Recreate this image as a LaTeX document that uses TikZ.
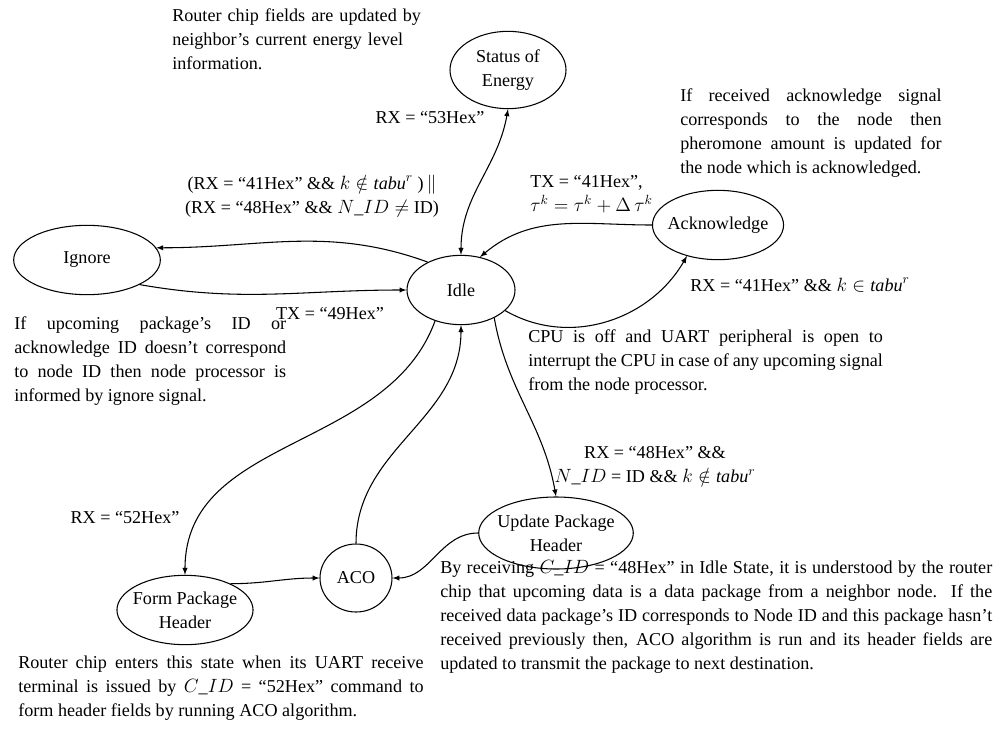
\documentclass[tikz,border=0pt]{standalone}
\usepackage{fontspec}
\setmainfont{Liberation Serif}
\usetikzlibrary{shapes.geometric}
\tikzstyle{n}=[ellipse,draw,line width=0.8pt,inner sep=-3pt,align=center]
\tikzstyle{e}=[line width=0.8pt,-latex]
\tikzstyle{lbl}=[inner sep=0pt,align=center]
\tikzstyle{par}=[inner sep=0pt,align=justify,anchor=north west]
\hyphenpenalty=10000
\begin{document}
\begin{tikzpicture}[x=0.75pt,y=-0.75pt,font=\fontsize{13.6}{18}\selectfont]
\useasboundingbox (0,0) rectangle (1000,739);

% Nodes
\node[n,minimum width=87pt,minimum height=58pt] (energy) at (508,70)  {Status of\\Energy};
\node[n,minimum width=96pt,minimum height=52pt] (ack)    at (718,225) {Acknowledge};
\node[n,minimum width=110pt,minimum height=52pt] (ignore) at (87,260) {Ignore};
\node[n,minimum width=81pt,minimum height=52pt] (idle)   at (461,290) {Idle};
\node[n,minimum width=92pt,minimum height=54pt] (update) at (556,533) {Update Package\\Header};
\node[n,minimum width=54pt,minimum height=51pt] (aco)    at (356,578) {ACO};
\node[n,minimum width=100pt,minimum height=52pt] (form)  at (185,610) {Form Package\\Header};

% Edges
\draw[e,latex-latex] (energy.south) to[out=-100,in=90] (idle.north);
\draw[e] (idle.140) to[out=160,in=0] (ignore.10);
\draw[e] (ignore.-25) to[out=-10,in=180] (idle.west);
\draw[e] (ack.west) to[out=180,in=40] (idle.60);
\draw[e] (idle.-25) to[out=-30,in=-120] (ack.-135);
\draw[e] (idle.-40) to[out=-80,in=100] (update.north);
\draw[e] (update.west) to[out=180,in=0] (aco.east);
\draw[e] (form.30) to[out=0,in=180] (aco.west);
\draw[e] (aco.north) to[out=90,in=-90] (idle.south);
\draw[e] (idle.-130) to[out=-110,in=90] (form.north);

% Labels
\node[lbl] (l53) at (430,118) {RX = “53Hex”};
\node[lbl,align=left,anchor=west] (l41tx) at (530,194) {TX = “41Hex”,\\$\tau^k=\tau^k+\Delta\,\tau^k$};
\node[lbl] (lign) at (312,196) {(RX = “41Hex” \&\& $k\notin \mathit{tabu}^r$ )$\,\|$\\(RX = “48Hex” \&\& $N\_ID \neq$ ID)};
\node[lbl] (l41rx) at (800,285) {RX = “41Hex” \&\& $k\in \mathit{tabu}^r$};
\node[lbl] (l49) at (330,314) {TX = “49Hex”};
\node[lbl] (l48) at (655,466) {RX = “48Hex” \&\&\\$N\_ID$ = ID \&\& $k\notin \mathit{tabu}^r$};
\node[lbl] (l52) at (125,518) {RX = “52Hex”};

% Texts
\node[par,align=left,text width=218pt] (t1) at (172,8) {Router chip fields are updated by neighbor’s current energy level information.};
\node[par,text width=196pt] (t2) at (680,88) {If received acknowledge signal corresponds to the node then pheromone amount is updated for the node which is acknowledged.};
\node[par,text width=204pt] (t3) at (14,316) {If upcoming package’s ID or acknowledge ID doesn’t correspond to node ID then node processor is informed by ignore signal.};
\node[par,text width=266pt] (t4) at (528,329) {CPU is off and UART peripheral is open to interrupt the CPU in case of any upcoming signal from the node processor.};
\node[par,text width=304pt] (t5) at (18,656) {Router chip enters this state when its UART receive terminal is issued by $C\_ID$ = “52Hex” command to form header fields by running ACO algorithm.};
\node[par,text width=414pt] (t6) at (440,560) {By receiving $C\_ID$ = “48Hex” in Idle State, it is understood by the router chip that upcoming data is a data package from a neighbor node. If the received data package’s ID corresponds to Node ID and this package hasn’t received previously then, ACO algorithm is run and its header fields are updated to transmit the package to next destination.};

\end{tikzpicture}
\end{document}
